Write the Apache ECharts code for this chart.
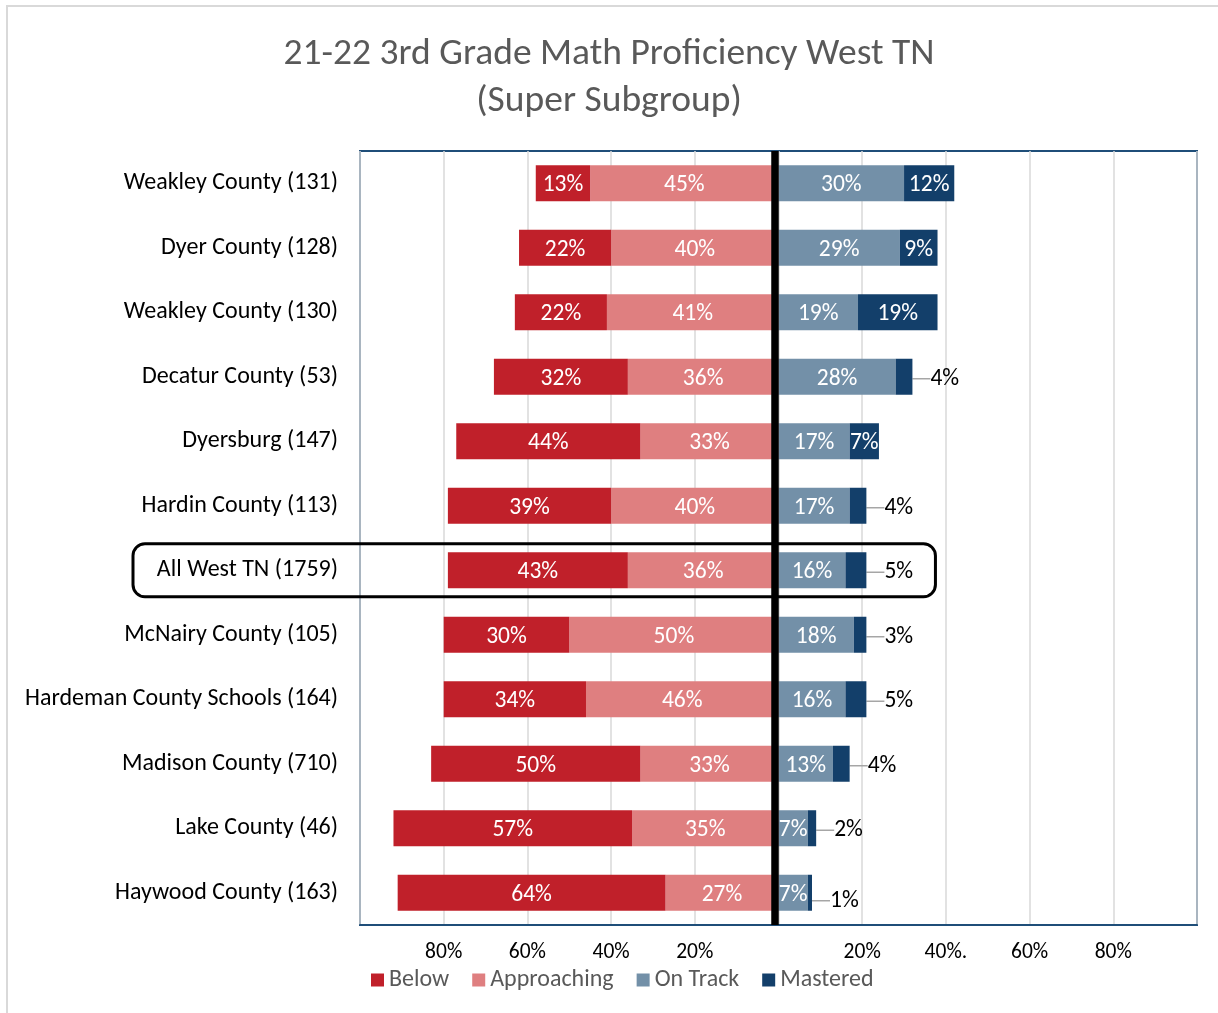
<!DOCTYPE html>
<html>
<head>
<meta charset="utf-8">
<script src="https://cdn.jsdelivr.net/npm/echarts@6/dist/echarts.min.js"></script>
<style>
html,body{margin:0;padding:0;background:#fff;}
#wrap{position:absolute;left:6px;top:5px;width:1212px;height:1008px;border-left:2px solid #D9D9D9;border-top:2px solid #D9D9D9;}
#chart{position:absolute;left:0;top:0;width:1218px;height:1013px;}
</style>
</head>
<body>
<div id="wrap"></div>
<div id="chart"></div>
<script>
const categories = ['Weakley County (131)','Dyer County (128)','Weakley County (130)','Decatur County (53)','Dyersburg (147)','Hardin County (113)','All West TN (1759)','McNairy County (105)','Hardeman County Schools (164)','Madison County (710)','Lake County (46)','Haywood County (163)'];
const below       = [13,22,22,32,44,39,43,30,34,50,57,64];
const approaching = [45,40,41,36,33,40,36,50,46,33,35,27];
const onTrack     = [30,29,19,28,17,17,16,18,16,13,7,7];
const mastered    = [12,9,19,4,7,4,5,3,5,4,2,1];
const tickValues  = [-80,-60,-40,-20,20,40,60,80];
const tickLabels  = ['80%','60%','40%','20%','20%','40%.','60%','80%'];
const highlightCategory = 'All West TN (1759)';

const FONT = 'Carlito, Calibri, "Open Sans", sans-serif';
const chart = echarts.init(document.getElementById('chart'));

const inLabel = {show:true, position:'inside', offset:[0,2], color:'#fff', fontSize:23.5, fontFamily:FONT,
  formatter: p => Math.abs(p.value) + '%'};

const masteredData = mastered.map(v => {
  if (v < 6) {
    return {value:v, label:{show:true, position:'right', distance:4, color:'#000', fontSize:23.5, fontFamily:FONT, formatter:'{c}%'},
            labelLine:{show:true, lineStyle:{color:'#A6A6A6', width:1.5}}};
  }
  return {value:v};
});

chart.setOption({
  animation:false,
  textStyle:{fontFamily:FONT},
  title:{
    text:'21-22 3rd Grade Math Proficiency West TN\n(Super Subgroup)',
    left:'center', top:26,
    textStyle:{fontSize:37.5, lineHeight:47, fontWeight:'normal', color:'#595959', fontFamily:FONT}
  },
  legend:{
    data:['Below','Approaching','On Track','Mastered'],
    left:366, top:963,
    icon:'rect', itemWidth:13, itemHeight:13, itemGap:23,
    textStyle:{fontSize:24, color:'#595959', fontFamily:FONT}
  },
  grid:{left:360, right:21, top:151, bottom:88, show:true, borderColor:'#1F4E79', borderWidth:2},
  xAxis:{
    type:'value', min:-100, max:100, interval:20,
    axisLine:{show:true, lineStyle:{color:'#1F4E79', width:2}},
    axisTick:{show:false},
    splitLine:{lineStyle:{color:'#D9D9D9', width:1.5}},
    axisLabel:{fontSize:21.5, color:'#000', margin:17, fontFamily:FONT,
      formatter: v => { const i = tickValues.indexOf(v); return i >= 0 ? tickLabels[i] : ''; }}
  },
  yAxis:{
    type:'category', inverse:true, data:categories,
    axisLine:{show:false}, axisTick:{show:false},
    axisLabel:{fontSize:24, color:'#000', margin:22, padding:[9,0,0,0], fontFamily:FONT}
  },
  series:[
    {name:'Approaching', type:'bar', stack:'t', barWidth:36, data:approaching.map(v=>-v),
     itemStyle:{color:'#DF7F80'}, label:inLabel},
    {name:'Below', type:'bar', stack:'t', barWidth:36, data:below.map(v=>-v),
     itemStyle:{color:'#C0202A'}, label:inLabel},
    {name:'On Track', type:'bar', stack:'t', barWidth:36, data:onTrack,
     itemStyle:{color:'#7390A8'}, label:inLabel},
    {name:'Mastered', type:'bar', stack:'t', barWidth:36, data:masteredData,
     itemStyle:{color:'#133F6A'}, label:inLabel,
     labelLayout: p => {
       const v = mastered[p.dataIndex];
       if (v < 6) return {dx:14, dy: p.dataIndex === categories.length-1 ? 8 : 2};
       return {dy:2};
     },
     markLine:{silent:true, symbol:'none', label:{show:false},
       lineStyle:{color:'#000', width:7.5, type:'solid'},
       data:[{xAxis:-0.9}]}
    }
  ]
});

const yc = chart.convertToPixel({yAxisIndex:0}, highlightCategory);
const xr = chart.convertToPixel({xAxisIndex:0}, 37.5);
chart.setOption({
  graphic:[{type:'rect', z:100, silent:true,
    shape:{x:133, y:yc-26.5, width:xr-133, height:53, r:12},
    style:{fill:'none', stroke:'#000', lineWidth:3}}]
});
</script>
</body>
</html>
